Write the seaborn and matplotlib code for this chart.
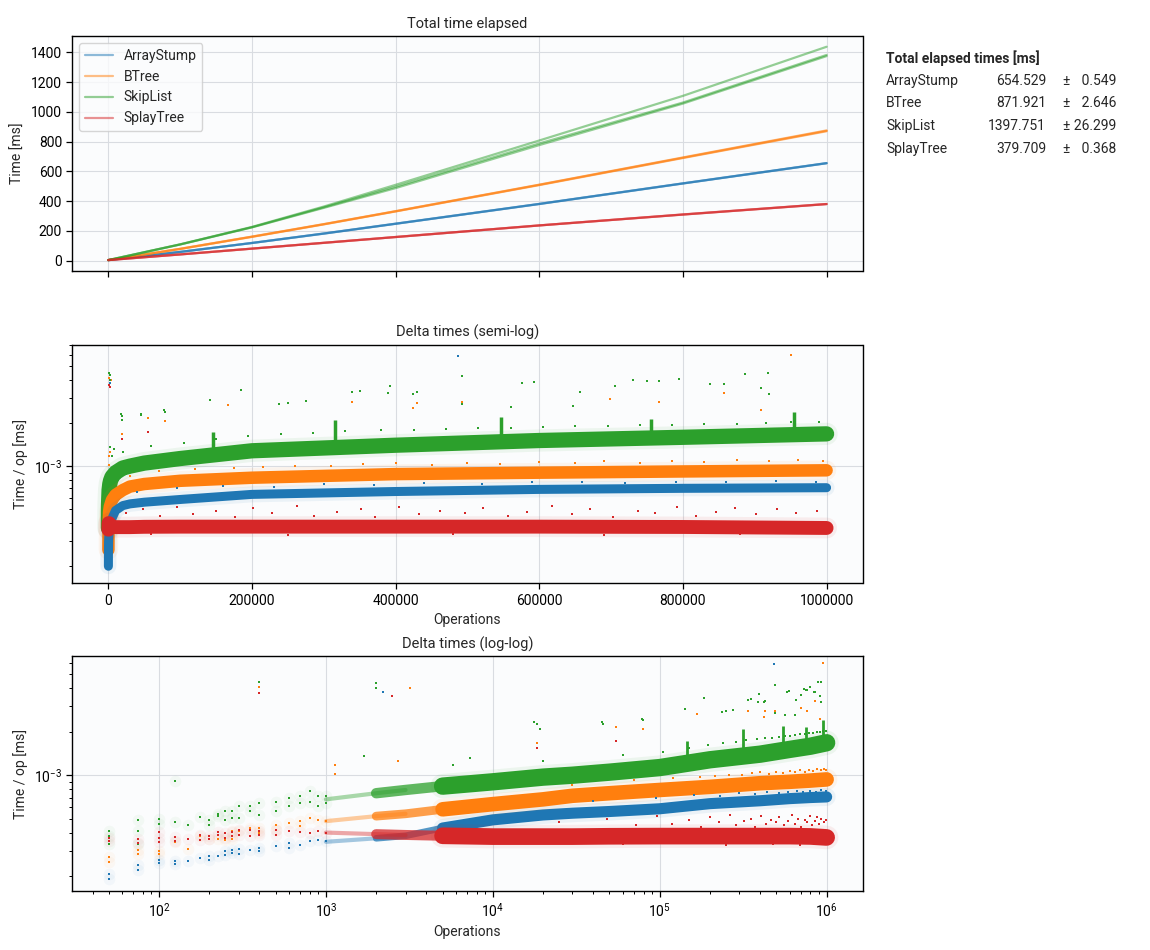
import matplotlib
matplotlib.use("Agg")
import matplotlib.pyplot as plt
from matplotlib.lines import Line2D
import numpy as np
import pandas as pd
import seaborn as sns

# ---------------- data ----------------
STRUCTS = ["ArrayStump", "BTree", "SkipList", "SplayTree"]
COLORS = ["#1f77b4", "#ff7f0e", "#2ca02c", "#d62728"]

# Total elapsed time [ms], 3 runs per structure
total_ops = [0, 100000, 200000, 300000, 400000, 600000, 800000, 1000000]
total_arraystump = [[3, 58, 118, 181, 247, 380, 518, 654.0],
                    [3, 58, 118, 181, 247, 380, 518, 654.5],
                    [3, 58, 118, 182, 248, 381, 519, 655.1]]
total_btree = [[3, 78, 159, 243, 330, 507, 689, 869.0],
               [3, 78, 160, 244, 331, 509, 691, 872.0],
               [3, 79, 161, 245, 332, 510, 693, 874.8]]
total_skiplist = [[3, 109, 226, 363, 509, 807, 1107, 1437.0],
                  [3, 108, 224, 358, 496, 787, 1062, 1382.0],
                  [3, 108, 223, 354, 487, 776, 1055, 1374.3]]
total_splaytree = [[3, 41, 80, 119, 158, 236, 309, 379.3],
                   [3, 41, 80, 119, 158, 236, 309, 379.7],
                   [3, 41, 80, 119, 158, 236, 310, 380.1]]

table_means = [654.529, 871.921, 1397.751, 379.709]
table_stds = [0.549, 2.646, 26.299, 0.368]

# Delta time per op, median band, in units of 1e-3 ms
UNIT = 1e-3
delta_ops = [50, 100, 300, 1000, 2000, 3000, 5000, 10000, 20000, 30000, 50000,
             100000, 200000, 400000, 600000, 800000, 1000000]
delta_arraystump = [0.20, 0.25, 0.30, 0.345, 0.365, 0.38, 0.43, 0.49, 0.53, 0.545, 0.56,
                    0.585, 0.635, 0.665, 0.688, 0.70, 0.707]
delta_btree = [0.26, 0.29, 0.39, 0.48, 0.52, 0.54, 0.58, 0.63, 0.68, 0.72, 0.75,
               0.79, 0.83, 0.88, 0.90, 0.918, 0.935]
delta_skiplist = [0.37, 0.48, 0.55, 0.68, 0.75, 0.79, 0.84, 0.90, 0.97, 1.0, 1.05,
                  1.13, 1.28, 1.40, 1.51, 1.59, 1.68]
delta_splaytree = [0.36, 0.37, 0.40, 0.40, 0.39, 0.385, 0.38, 0.375, 0.375, 0.375, 0.377,
                   0.378, 0.378, 0.378, 0.378, 0.376, 0.370]

# early individual samples (ops <= 1000), units of 1e-3 ms
early_ops_arraystump = [50, 50, 75, 75, 100, 100, 125, 125, 150, 175, 200, 200, 225, 250, 250,
                        275, 275, 300, 300, 350, 400, 400, 500, 600, 600, 700, 800, 900, 1000]
early_vals_arraystump = [0.207, 0.191, 0.240, 0.221, 0.259, 0.246, 0.254, 0.243, 0.253, 0.265,
                         0.273, 0.259, 0.273, 0.296, 0.281, 0.304, 0.289, 0.308, 0.286, 0.304,
                         0.313, 0.296, 0.321, 0.338, 0.313, 0.330, 0.348, 0.357, 0.348]
early_ops_btree = [50, 50, 75, 75, 100, 100, 125, 150, 175, 200, 225, 250, 275, 275, 300,
                   350, 400, 400, 500, 500, 600, 700, 700, 800, 900, 1000]
early_vals_btree = [0.271, 0.249, 0.304, 0.284, 0.296, 0.282, 0.346, 0.309, 0.376, 0.361,
                    0.361, 0.357, 0.408, 0.361, 0.408, 0.430, 0.430, 0.397, 0.453, 0.419,
                    0.465, 0.478, 0.441, 0.504, 0.491, 0.478]
early_ops_skiplist = [50, 50, 50, 75, 75, 75, 100, 100, 125, 125, 150, 175, 200, 200, 225, 225,
                      250, 250, 275, 275, 300, 300, 350, 350, 400, 400, 500, 500, 600, 600,
                      700, 700, 800, 800, 900, 900, 1000, 1000]
early_vals_skiplist = [0.408, 0.380, 0.331, 0.486, 0.408, 0.331, 0.496, 0.460, 0.914, 0.470,
                       0.453, 0.510, 0.486, 0.453, 0.540, 0.518, 0.561, 0.491, 0.561, 0.504,
                       0.504, 0.607, 0.613, 0.561, 0.640, 0.531, 0.657, 0.561, 0.693, 0.607,
                       0.712, 0.640, 0.771, 0.657, 0.712, 0.607, 0.719, 0.640]
early_ops_splaytree = [50, 50, 75, 75, 100, 100, 100, 125, 125, 150, 175, 175, 200, 200, 225, 225,
                       250, 250, 275, 275, 300, 300, 350, 350, 400, 400, 500, 500, 600, 700,
                       800, 900, 1000]
early_vals_splaytree = [0.367, 0.351, 0.361, 0.338, 0.401, 0.365, 0.342, 0.371, 0.348, 0.359,
                        0.384, 0.357, 0.376, 0.361, 0.401, 0.386, 0.397, 0.365, 0.401, 0.376,
                        0.419, 0.386, 0.414, 0.376, 0.408, 0.386, 0.419, 0.386, 0.408, 0.401,
                        0.397, 0.408, 0.397]

# outliers, units of 1e-3 ms
out_ops_arraystump = [2200, 487000]
out_vals_arraystump = [3.79, 5.88]
out_ops_btree = [400, 3200, 1140, 1140, 2700, 18400, 55000, 79000, 167000, 339000, 424000,
                 430000, 493000, 698000, 767000, 857000, 908000, 950000]
out_vals_btree = [4.10, 4.00, 1.18, 1.02, 1.26, 1.68, 2.17, 2.08, 2.68, 2.80, 2.54,
                  2.78, 2.80, 2.93, 2.80, 3.25, 2.45, 5.97]
out_ops_skiplist = [400, 2000, 2000, 1700, 5750, 7300, 17600, 18400, 19200, 45000, 46000,
                    78000, 79000, 142000, 184000, 237000, 250000, 275000, 339000, 350000,
                    389000, 392000, 424000, 430000, 493000, 493000, 560000, 576000, 593000,
                    647000, 656000, 705000, 731000, 750000, 767000, 795000, 837000, 857000,
                    886000, 908000, 919000, 920000]
out_vals_skiplist = [4.44, 4.34, 4.00, 1.36, 1.18, 1.31, 2.33, 2.25, 2.10, 2.33, 2.27,
                     2.47, 2.40, 2.88, 3.42, 2.73, 2.77, 2.83, 3.31, 3.37,
                     3.24, 3.65, 3.20, 3.28, 4.24, 2.70, 2.60, 3.80, 3.85,
                     2.63, 3.30, 3.60, 3.98, 3.90, 3.93, 4.09, 3.75, 3.75,
                     4.40, 3.52, 4.44, 3.20]
out_ops_splaytree = [400, 2500, 18400, 55000]
out_vals_splaytree = [3.70, 3.56, 1.54, 1.74]

# scattered samples just outside each band (estimated), units of 1e-3 ms
near_ops_arraystump = [40000, 95000, 160000, 230000, 300000, 370000, 440000, 520000, 590000,
                       660000, 720000, 790000, 860000, 930000, 985000]
near_vals_arraystump = [0.66, 0.70, 0.73, 0.72, 0.75, 0.74, 0.76, 0.75, 0.77, 0.78, 0.76,
                        0.78, 0.77, 0.79, 0.78]
near_ops_btree = [30000, 70000, 120000, 175000, 215000, 260000, 310000, 355000, 400000, 450000,
                  500000, 545000, 600000, 650000, 690000, 740000, 785000, 830000, 875000,
                  920000, 960000, 995000]
near_vals_btree = [0.86, 0.92, 0.95, 0.97, 0.99, 1.01, 1.00, 1.03, 1.05, 1.02, 1.06, 1.04,
                   1.07, 1.05, 1.08, 1.06, 1.09, 1.07, 1.10, 1.08, 1.11, 1.09]
near_ops_skiplist = [20000, 60000, 105000, 150000, 195000, 240000, 285000, 330000, 380000,
                     425000, 470000, 515000, 560000, 605000, 650000, 695000, 740000, 785000,
                     830000, 875000, 915000, 950000, 990000]
near_vals_skiplist = [1.25, 1.38, 1.45, 1.55, 1.62, 1.68, 1.70, 1.75, 1.78, 1.80, 1.82, 1.85,
                      1.86, 1.88, 1.90, 1.92, 1.93, 1.95, 1.97, 1.98, 2.00, 2.02, 2.03]
near_ops_splaytree = [25000, 48000, 72000, 96000, 118000, 150000, 176000, 201000, 228000,
                      262000, 287000, 318000, 352000, 371000, 404000, 433000, 462000, 497000,
                      521000, 556000, 583000, 617000, 646000, 671000, 703000, 738000, 761000,
                      792000, 818000, 846000, 873000, 902000, 931000, 958000, 987000,
                      60000, 250000, 480000, 690000, 880000]
near_vals_splaytree = [0.47, 0.50, 0.45, 0.52, 0.46, 0.49, 0.44, 0.51, 0.47, 0.53, 0.45, 0.48,
                       0.50, 0.44, 0.52, 0.46, 0.49, 0.47, 0.51, 0.45, 0.48, 0.53, 0.46, 0.50,
                       0.44, 0.49, 0.47, 0.52, 0.45, 0.48, 0.51, 0.46, 0.50, 0.47, 0.49,
                       0.335, 0.330, 0.335, 0.330, 0.335]

# SkipList latency spikes
spike_ops = [145000, 316000, 547000, 755000, 955000]
spike_base = [1.15, 1.38, 1.50, 1.60, 1.67]
spike_top = [1.72, 2.10, 2.20, 2.15, 2.40]

totals = [total_arraystump, total_btree, total_skiplist, total_splaytree]
deltas = [delta_arraystump, delta_btree, delta_skiplist, delta_splaytree]
early = [(early_ops_arraystump, early_vals_arraystump), (early_ops_btree, early_vals_btree),
         (early_ops_skiplist, early_vals_skiplist), (early_ops_splaytree, early_vals_splaytree)]
outl = [(out_ops_arraystump, out_vals_arraystump), (out_ops_btree, out_vals_btree),
        (out_ops_skiplist, out_vals_skiplist), (out_ops_splaytree, out_vals_splaytree)]
near = [(near_ops_arraystump, near_vals_arraystump), (near_ops_btree, near_vals_btree),
        (near_ops_skiplist, near_vals_skiplist), (near_ops_splaytree, near_vals_splaytree)]
band_w_semi = [6.5, 9, 11, 10]
band_w_log = [8, 10.5, 12.5, 12]

# ---------------- style ----------------
sns.set_theme(style="ticks")
FONT = ["Roboto", "DejaVu Sans"]
plt.rcParams.update({
    "font.family": FONT,
    "font.size": 10,
    "mathtext.default": "regular",
    "axes.facecolor": "#fbfcfd",
    "axes.edgecolor": "black",
    "axes.linewidth": 1.0,
    "axes.grid": True,
    "grid.color": "#d9dce1",
    "grid.linewidth": 0.8,
    "xtick.color": "black",
    "ytick.color": "black",
    "xtick.labelsize": 10,
    "ytick.labelsize": 10,
    "axes.titlesize": 10.5,
    "axes.labelsize": 10,
})

fig = plt.figure(figsize=(11.5, 9.5), dpi=100)
L, W = 0.063, 0.687
ax0 = fig.add_axes([L, 0.715, W, 0.247])
ax1 = fig.add_axes([L, 0.386, W, 0.251])
ax2 = fig.add_axes([L, 0.062, W, 0.247])
ax0.sharex(ax1)

# ---- top: total time
rows = []
for s, runs in zip(STRUCTS, totals):
    for r, vals in enumerate(runs):
        for o, v in zip(total_ops, vals):
            rows.append((s, r, o, v))
df_tot = pd.DataFrame(rows, columns=["structure", "run", "ops", "time"])
sns.lineplot(data=df_tot, x="ops", y="time", hue="structure", units="run", estimator=None,
             palette=COLORS, hue_order=STRUCTS, alpha=0.5, linewidth=1.6, ax=ax0, legend=False)
handles = [Line2D([], [], color=c, alpha=0.5, lw=1.6) for c in COLORS]
ax0.legend(handles, STRUCTS, loc="upper left", fontsize=10, frameon=True, framealpha=0.8,
           edgecolor="#cccccc", handlelength=2.0, borderaxespad=0.5)
ax0.set_title("Total time elapsed")
ax0.set_ylabel("Time [ms]")
ax0.set_xlabel("")
ax0.set_yticks([0, 200, 400, 600, 800, 1000, 1200, 1400])
ax0.tick_params(labelbottom=False)

# ---- delta data frames
drows = []
for s, vals in zip(STRUCTS, deltas):
    for o, v in zip(delta_ops, vals):
        drows.append((s, o, v * UNIT))
df_d = pd.DataFrame(drows, columns=["structure", "ops", "dt"])

def dots_df(pairs):
    rr = []
    for s, (ops, vals) in zip(STRUCTS, pairs):
        for o, v in zip(ops, vals):
            rr.append((s, o, v * UNIT))
    return pd.DataFrame(rr, columns=["structure", "ops", "dt"])

df_early = dots_df(early)
df_out = dots_df(outl)
df_near = dots_df(near)
df_spk = pd.DataFrame({"ops": spike_ops, "lo": np.array(spike_base) * UNIT,
                       "hi": np.array(spike_top) * UNIT})

def draw_band(ax, sub, color, lw, alpha=1.0):
    sns.lineplot(data=sub, x="ops", y="dt", color=color, linewidth=lw, alpha=alpha,
                 estimator=None, sort=True, ax=ax, legend=False,
                 solid_capstyle="round", solid_joinstyle="round")

def draw_dots(ax, df, s, color):
    sns.scatterplot(data=df[df.structure == s], x="ops", y="dt", color=color, s=2.2,
                    marker="s", linewidth=0, ax=ax, legend=False, zorder=4)

# ---- middle: semi-log (drawing order keeps early low values hidden as in reference)
order_semi = [2, 1, 0, 3]
for i in order_semi:
    s, c, w = STRUCTS[i], COLORS[i], band_w_semi[i]
    sub = df_d[df_d.structure == s]
    draw_band(ax1, sub, c, w + 5, 0.07)
    draw_band(ax1, sub, c, w, 1.0)
ax1.vlines(df_spk.ops, df_spk.lo, df_spk.hi, color=COLORS[2], lw=2.5, zorder=3)
for s, c in zip(STRUCTS, COLORS):
    draw_dots(ax1, df_out, s, c)
    draw_dots(ax1, df_near, s, c)
ax1.set_yscale("log")
ax1.set_ylim(1.52e-4, 7.03e-3)
ax1.set_xlim(-50000, 1050000)
ax1.set_xticks([0, 200000, 400000, 600000, 800000, 1000000])
ax1.ticklabel_format(style="plain", axis="x", useOffset=False)
ax1.set_title("Delta times (semi-log)")
ax1.set_xlabel("Operations")
ax1.set_ylabel("Time / op [ms]")

# ---- bottom: log-log
for s, c, w in zip(STRUCTS, COLORS, band_w_log):
    sub = df_d[df_d.structure == s]
    draw_band(ax2, sub[(sub.ops >= 1000) & (sub.ops <= 3000)], c, 3, 0.4)
    draw_band(ax2, sub[(sub.ops >= 2000) & (sub.ops <= 10000)], c, w * 0.6, 0.75)
    draw_band(ax2, sub[sub.ops >= 5000], c, w + 5, 0.07)
    draw_band(ax2, sub[sub.ops >= 5000], c, w, 1.0)
ax2.vlines(df_spk.ops, df_spk.lo, df_spk.hi, color=COLORS[2], lw=2.0, zorder=3)
for s, c in zip(STRUCTS, COLORS):
    e = df_early[df_early.structure == s]
    sns.scatterplot(data=e, x="ops", y="dt", color=c, s=70, alpha=0.04,
                    linewidth=0, ax=ax2, legend=False, zorder=3)
    draw_dots(ax2, df_early, s, c)
    draw_dots(ax2, df_out, s, c)
    draw_dots(ax2, df_near, s, c)
ax2.set_xscale("log")
ax2.set_yscale("log")
ax2.set_xlim(30.3, 1.64e6)
ax2.set_ylim(1.57e-4, 6.67e-3)
ax2.set_title("Delta times (log-log)")
ax2.set_xlabel("Operations")
ax2.set_ylabel("Time / op [ms]")

for ax in (ax0, ax1, ax2):
    ax.grid(True, which="major")
    ax.grid(False, which="minor")
    ax.tick_params(direction="out", length=4, width=0.9)
    ax.tick_params(which="minor", direction="out", length=2.5, width=0.7)
    for sp in ax.spines.values():
        sp.set_visible(True)
        sp.set_color("black")

# ---- table of totals
tx = 886 / 1150
fig.text(tx, 1 - 58 / 950, "Total elapsed times [ms]", fontweight="bold", fontsize=10,
         va="center", ha="left")
row_y = [81, 103, 126, 149]
for s, m, sd, yy in zip(STRUCTS, table_means, table_stds, row_y):
    y = 1 - yy / 950
    fig.text(tx, y, s, fontsize=10, va="center", ha="left")
    fig.text(1046 / 1150, y, f"{m:.3f}", fontsize=10, va="center", ha="right")
    fig.text(1116 / 1150, y, "\u00b1 " + f"{sd:6.3f}".replace(" ", "\u2007"), fontsize=10,
             va="center", ha="right")

fig.savefig("out.png", dpi=100)
